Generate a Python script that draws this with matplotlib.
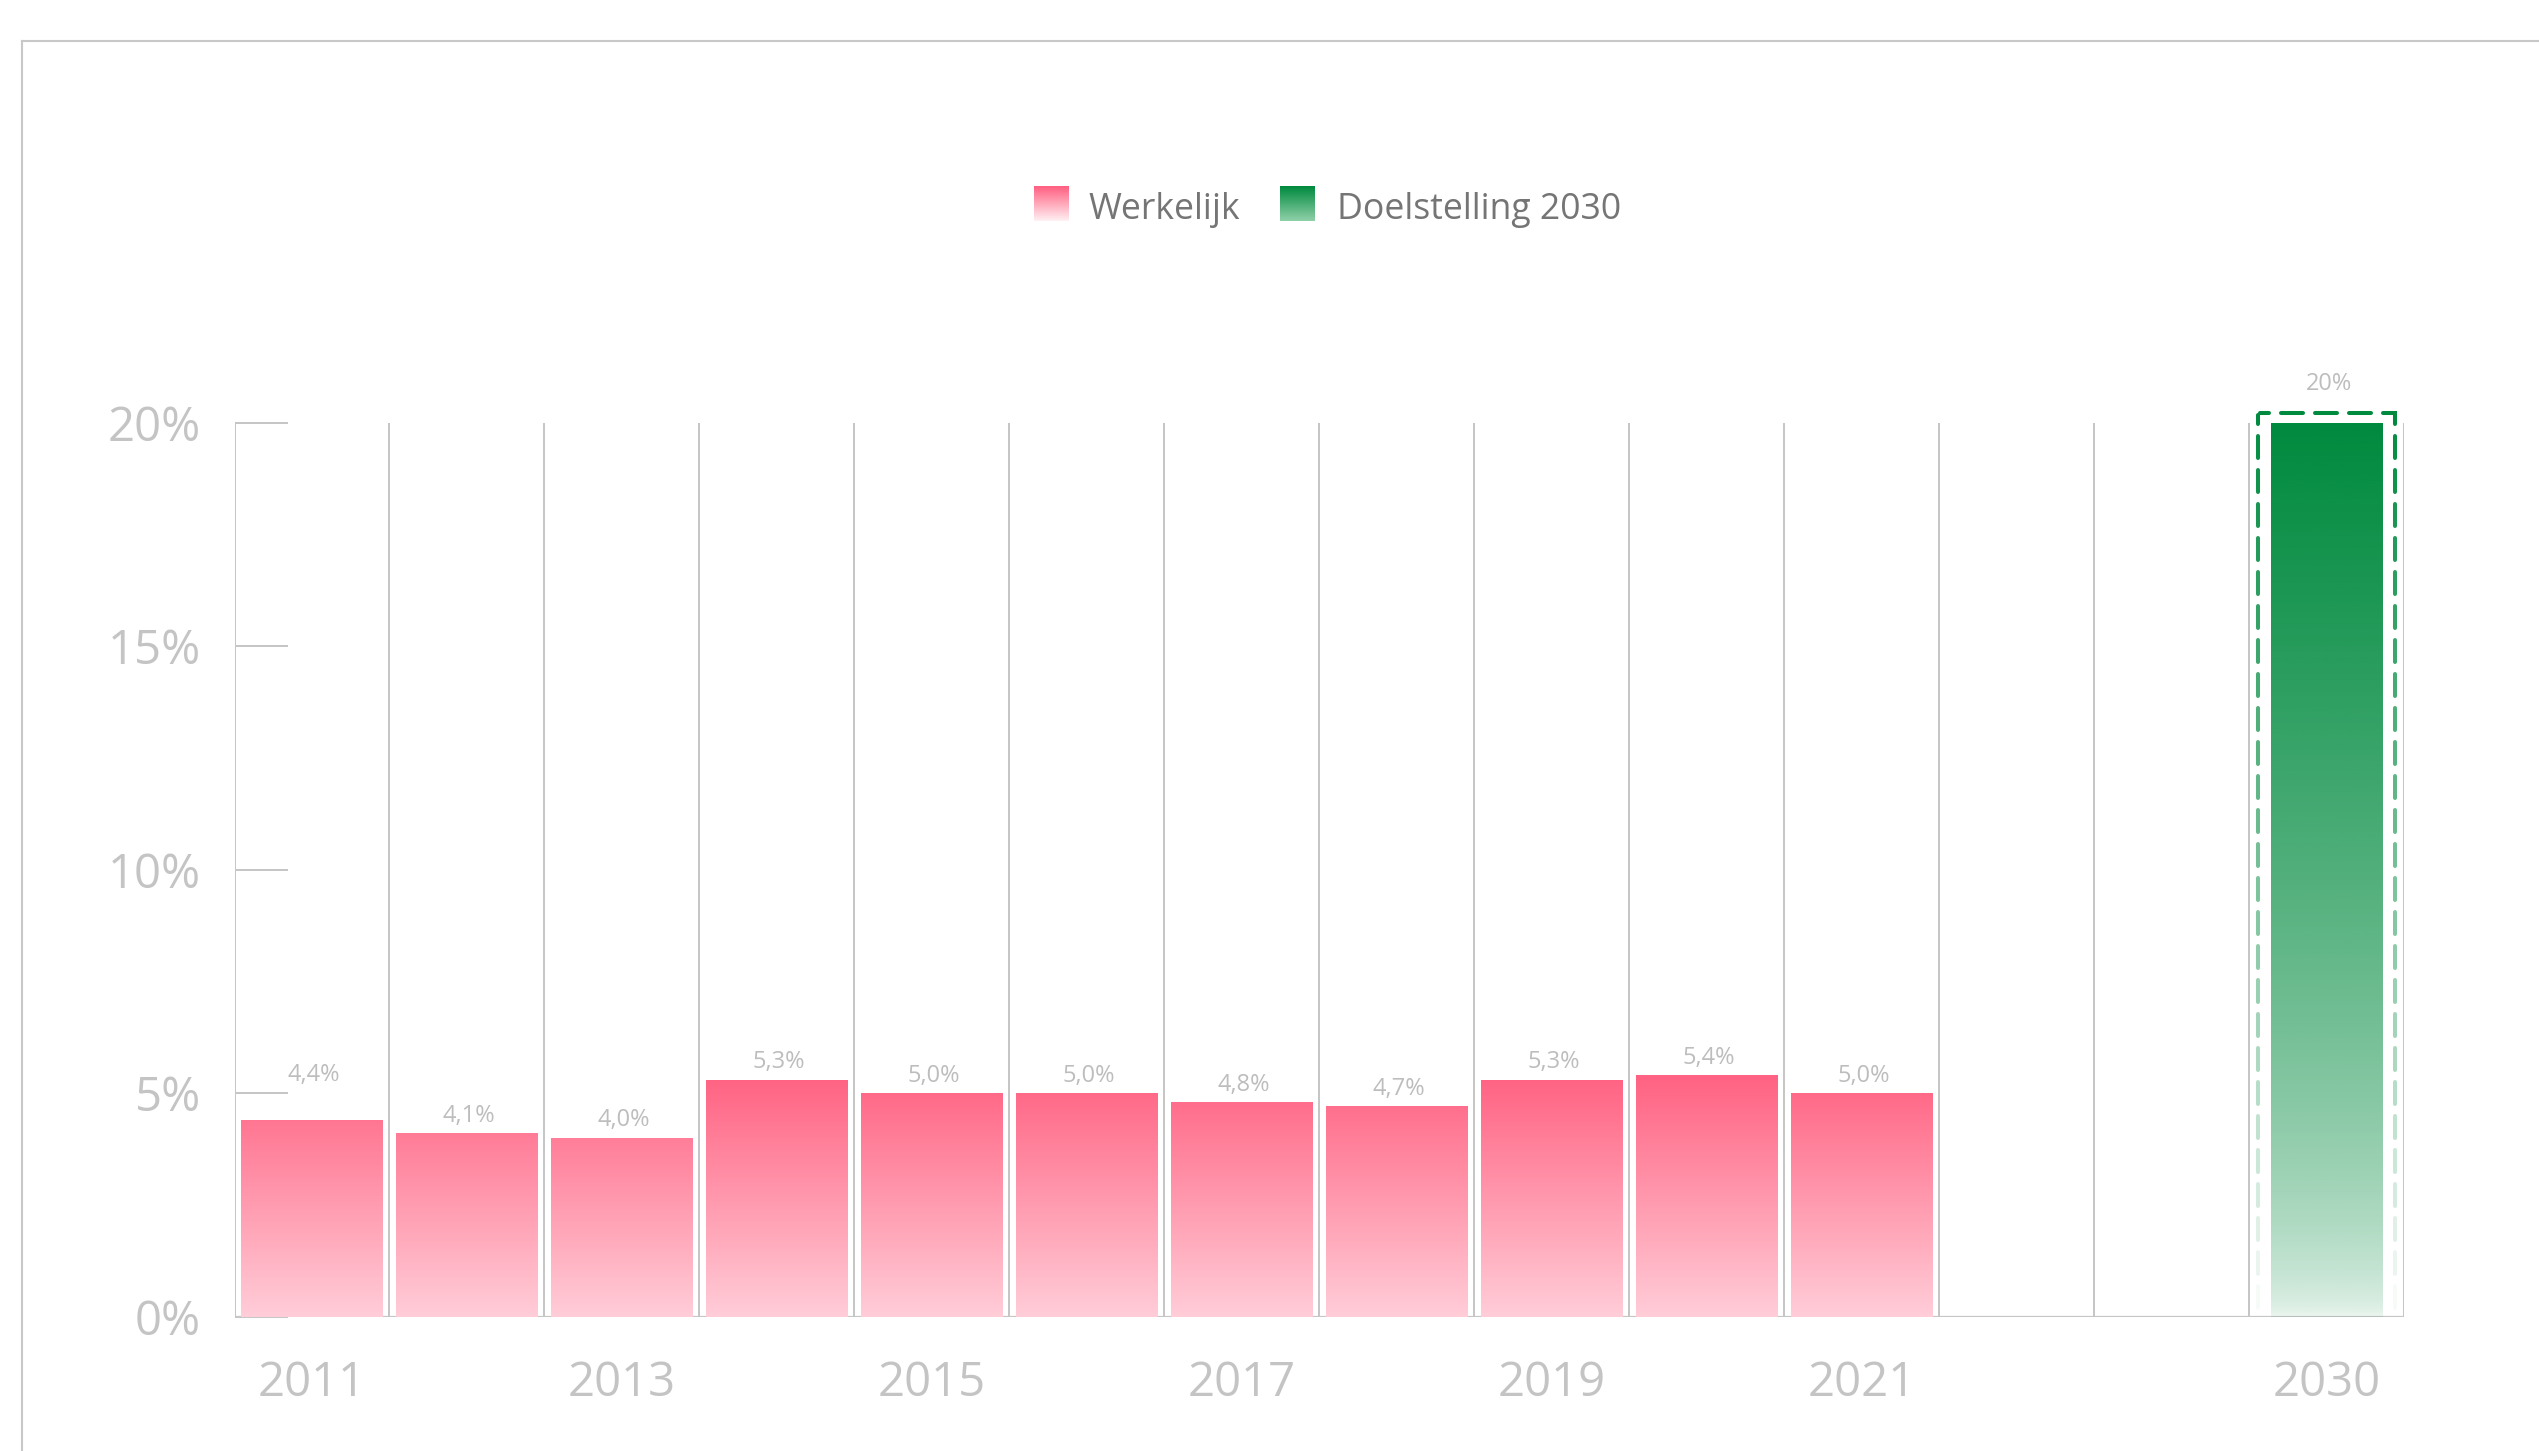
import numpy as np
import matplotlib
matplotlib.use('Agg')
import matplotlib.pyplot as plt
from matplotlib.lines import Line2D
from matplotlib.colors import to_rgb

plt.rcParams['font.family'] = ['Open Sans', 'DejaVu Sans']

# ---------------- data ----------------
actual_years = ['2011', '2012', '2013', '2014', '2015', '2016', '2017',
                '2018', '2019', '2020', '2021']
actual_values = [4.4, 4.1, 4.0, 5.3, 5.0, 5.0, 4.8, 4.7, 5.3, 5.4, 5.0]
gap_slots = ['', '']
target_year = '2030'
target_value = 20
y_ticks = [0, 5, 10, 15, 20]
legend_labels = ['Werkelijk', 'Doelstelling 2030']

slot_labels = actual_years + gap_slots + [target_year]
shown_labels = [lab if (i % 2 == 0 or lab == target_year) else ''
                for i, lab in enumerate(slot_labels)]

# ---------------- style ----------------
W, H = 2539, 1451
GRID = '#c6c6c6'
TICK_TXT = '#c4c4c4'
VAL_TXT = '#bdbdbd'
LEG_TXT = '#757575'
PINK_TOP = to_rgb('#ff6282')
PINK_BOT = to_rgb('#ffcdd8')
GREEN = to_rgb('#008a3e')

fig = plt.figure(figsize=(W / 100, H / 100), dpi=100)
L, R = 234.5 / W, 2404 / W
B, T = 1 - 1316.5 / H, 1 - 422.6 / H
ax = fig.add_axes([L, B, R - L, T - B])

n = len(slot_labels)
x = np.arange(n)
x_act = x[:len(actual_years)]
x_tgt = slot_labels.index(target_year)

for s in ax.spines.values():
    s.set_visible(False)

ax.vlines(np.arange(n + 1) - 0.5, 0, 20, color=GRID, lw=1.44, zorder=1)
ax.hlines(0, -0.5, n - 0.5, color=GRID, lw=1.6, zorder=1)

ax.set_yticks(y_ticks)
ax.set_yticklabels([f'{v}%' for v in y_ticks])
ax.tick_params(axis='y', direction='in', length=38, width=1.44, color=GRID,
               labelsize=34, labelcolor=TICK_TXT, pad=24)
ax.set_xticks(x)
ax.set_xticklabels(shown_labels)
ax.tick_params(axis='x', length=0, labelsize=34, labelcolor=TICK_TXT, pad=31)

# pink gradient bars
bars = ax.bar(x_act, actual_values, width=0.91, color='none',
              edgecolor='none', zorder=2)
vmax = max(actual_values)
t = np.linspace(0, 1, 256)[:, None, None]
pink_img = np.array(PINK_BOT)[None, None, :] + (np.array(PINK_TOP) - np.array(PINK_BOT))[None, None, :] * t
for bar in bars:
    l = bar.get_x()
    r = l + bar.get_width()
    im = ax.imshow(pink_img, extent=[l, r, 0, vmax], origin='lower',
                   aspect='auto', zorder=2, interpolation='bilinear')
    im.set_clip_path(bar)

# green target bar (alpha gradient)
gbar = ax.bar([x_tgt], [target_value], width=0.72, color='none',
              edgecolor='none', zorder=2)[0]
tg = np.linspace(0, 1, 256)
alpha = 0.08 + 0.92 * tg ** 0.6
green_img = np.zeros((256, 1, 4))
green_img[:, 0, :3] = GREEN
green_img[:, 0, 3] = alpha
gl = gbar.get_x()
im = ax.imshow(green_img, extent=[gl, gl + gbar.get_width(), 0, target_value],
               origin='lower', aspect='auto', zorder=2, interpolation='bilinear')
im.set_clip_path(gbar)

ax.set_xlim(-0.5, n - 0.5)
ax.set_ylim(0, 20)

# value labels
for i, (xi, v) in enumerate(zip(x_act, actual_values)):
    nudge = 20 if i == 0 else 0  # pushed above the 5% tick
    ax.annotate(f'{v:.1f}'.replace('.', ',') + '%', xy=(xi, v),
                xytext=(1.5, 12.5 + nudge), textcoords='offset points',
                ha='center', va='center', fontsize=17, color=VAL_TXT,
                annotation_clip=False)
ax.annotate(f'{target_value:g}%', xy=(x_tgt, target_value), xytext=(2, 28),
            textcoords='offset points', ha='center', va='center',
            fontsize=17, color=VAL_TXT, annotation_clip=False)

# dashed fading frame around the target bar
fig.canvas.draw()
half = 0.44
xl, yb = ax.transData.transform((x_tgt - half, 0))
xr, y20 = ax.transData.transform((x_tgt + half, target_value))
yt = y20 + 9.6
inv = ax.transData.inverted()


def dash_segments(pts, first=13.0, dash=26.0, gap=8.0):
    pts = np.asarray(pts, float)
    seg = np.hypot(*np.diff(pts, axis=0).T)
    cum = np.concatenate([[0], np.cumsum(seg)])
    total = cum[-1]
    intervals = [(0.0, first)]
    pos = first + gap
    while pos < total:
        intervals.append((pos, min(pos + dash, total)))
        pos += dash + gap

    def at(s):
        k = min(np.searchsorted(cum, s, side='right') - 1, len(seg) - 1)
        f = (s - cum[k]) / seg[k] if seg[k] > 0 else 0
        return pts[k] + f * (pts[k + 1] - pts[k])

    out = []
    for a, b in intervals:
        a2, b2 = a + 2, b - 2
        if b2 <= a2:
            continue
        p = [at(a2)]
        for k in range(1, len(pts) - 1):
            if a2 < cum[k] < b2:
                p.append(pts[k])
        p.append(at(b2))
        out.append(np.array(p))
    return out


paths = [[(xl, yt), (xl, yb)], [(xl, yt), (xr, yt), (xr, yb)]]
for pth in paths:
    for d in dash_segments(pth):
        f = np.clip((d[:, 1].mean() - yb) / (yt - yb), 0, 1)
        a = f ** 0.9
        if a < 0.02:
            continue
        dd = inv.transform(d)
        ax.add_line(Line2D(dd[:, 0], dd[:, 1], color=GREEN, alpha=a, lw=2.9,
                           solid_capstyle='round', solid_joinstyle='miter',
                           clip_on=False, zorder=3))

# outer frame (only left and top visible)
fx, fy = 21.7 / W, 1 - 40.7 / H
fig.add_artist(Line2D([fx, fx], [0, fy], transform=fig.transFigure,
                      color='#c8c8c8', lw=1.5))
fig.add_artist(Line2D([fx, 1], [fy, fy], transform=fig.transFigure,
                      color='#c8c8c8', lw=1.5))

# legend
def legend_square(x0, top_c, bot_c):
    lax = fig.add_axes([x0 / W, 1 - 221 / H, 35 / W, 35 / H])
    tt = np.linspace(0, 1, 64)[:, None, None]
    img = np.array(to_rgb(bot_c))[None, None, :] + (np.array(to_rgb(top_c)) - np.array(to_rgb(bot_c)))[None, None, :] * tt
    lax.imshow(img, origin='lower', aspect='auto', extent=[0, 1, 0, 1])
    lax.set_axis_off()


legend_square(1034, '#ff5f80', '#fff0f3')
fig.text(1088 / W, 1 - 219 / H, legend_labels[0], fontsize=25.7, color=LEG_TXT,
         ha='left', va='baseline')
legend_square(1280, '#008a3e', '#8fd0a8')
fig.text(1337 / W, 1 - 219 / H, legend_labels[1], fontsize=25.7, color=LEG_TXT,
         ha='left', va='baseline')

fig.savefig('out.png', dpi=100, facecolor='white')
